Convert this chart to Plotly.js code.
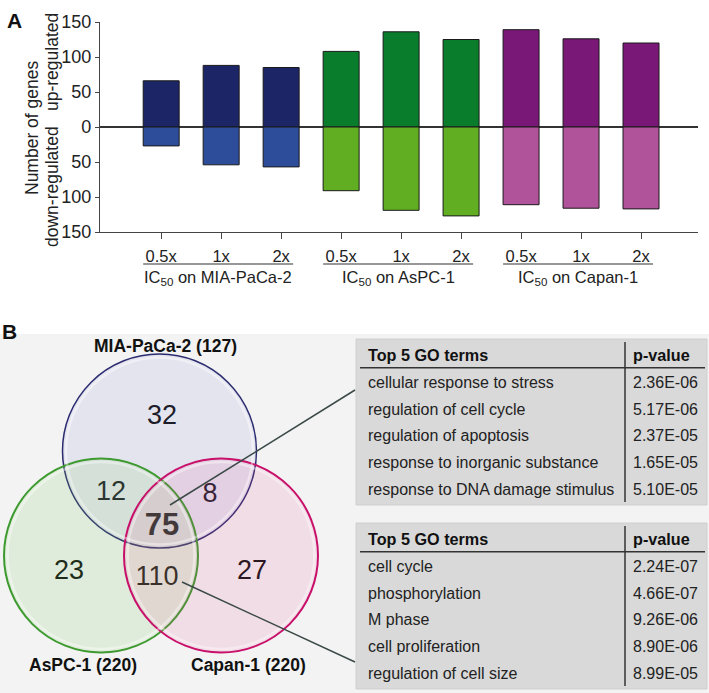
<!DOCTYPE html>
<html><head><meta charset="utf-8">
<script src="https://cdn.plot.ly/plotly-3.0.1.min.js"></script>
<style>html,body{margin:0;padding:0;background:#fff}#chart{width:709px;height:693px}</style>
</head><body><div id="chart"></div>
<script>
// ---------- DATA ----------
const doseLabels = ['0.5x','1x','2x','0.5x','1x','2x','0.5x','1x','2x'];
const groupNames = ['MIA-PaCa-2','AsPC-1','Capan-1'];
const upRegulated = [66, 88, 85, 108, 136, 125, 139, 126, 120];
const downRegulated = [27, 54, 57, 91, 119, 127, 111, 116, 117];
const yTickValues = [-150,-100,-50,0,50,100,150];

const vennSetNames = ['MIA-PaCa-2','AsPC-1','Capan-1'];
const vennSetTotals = [127, 220, 220];
const vennRegionCounts = [32, 23, 27, 12, 8, 110, 75]; // MIA, AsPC, Capan, MIA&AsPC, MIA&Capan, AsPC&Capan, all

const tableHeader = ['Top 5 GO terms','p-value'];
const go1Terms = ['cellular response to stress','regulation of cell cycle','regulation of apoptosis','response to inorganic substance','response to DNA damage stimulus'];
const go1PValues = ['2.36E-06','5.17E-06','2.37E-05','1.65E-05','5.10E-05'];
const go2Terms = ['cell cycle','phosphorylation','M phase','cell proliferation','regulation of cell size'];
const go2PValues = ['2.24E-07','4.66E-07','9.26E-06','8.90E-06','8.99E-05'];

// ---------- STYLE / LAYOUT ----------
const FONT = 'Liberation Sans, Arial, Helvetica, sans-serif';
const upColors = ['#1c2566','#1c2566','#1c2566','#0a7d2c','#0a7d2c','#0a7d2c','#7a1877','#7a1877','#7a1877'];
const downColors = ['#2d4d9a','#2d4d9a','#2d4d9a','#62ae22','#62ae22','#62ae22','#b1539a','#b1539a','#b1539a'];
const W = 709, H = 693;
const circleGeom = [{cx:159.5, cy:451, r:97},{cx:101, cy:555.5, r:97},{cx:221, cy:555.5, r:97}];
const circleFill = ['rgba(120,120,210,0.12)','rgba(120,200,90,0.15)','rgba(235,80,145,0.13)'];
const circleLine = ['#2b2b70','#3d9a2f','#c8106a'];
const setLabelPos = [[165,346],[83,665],[248,665]];
const regionPos = [[162,417],[69,572],[252,572],[111,493],[210,495],[157,578],[162,527]];
const tableTops = [339, 523];

const xIdx = doseLabels.map((_, i) => i);

const traces = [
  {type:'bar', x:xIdx, y:upRegulated, width:0.6, marker:{color:upColors, line:{color:'#1a1a1a', width:1}}, xaxis:'x', yaxis:'y', hoverinfo:'skip'},
  {type:'bar', x:xIdx, y:downRegulated.map(v => -v), width:0.6, marker:{color:downColors, line:{color:'#1a1a1a', width:1}}, xaxis:'x', yaxis:'y', hoverinfo:'skip'},
  {type:'scatter', mode:'text', xaxis:'x2', yaxis:'y2',
   x: regionPos.map(p => p[0]), y: regionPos.map(p => p[1]),
   text: vennRegionCounts.map((v, i) => i === 6 ? '<b>' + v + '</b>' : String(v)),
   textfont:{family:FONT, size: vennRegionCounts.map((v, i) => i === 6 ? 31 : 27), color:'#111'},
   textposition:'middle center', hoverinfo:'skip', cliponaxis:false}
];

const shapes = [];
const annotations = [];

// background of panel B
shapes.push({type:'rect', xref:'x2', yref:'y2', x0:0, x1:709, y0:334, y1:693, fillcolor:'#f3f3f3', line:{width:0}, layer:'below'});

// venn circles
circleGeom.forEach((c, i) => {
  shapes.push({type:'circle', xref:'x2', yref:'y2', x0:c.cx-c.r, x1:c.cx+c.r, y0:c.cy-c.r, y1:c.cy+c.r,
    fillcolor:circleFill[i], line:{color:circleLine[i], width:i === 0 ? 1.5 : 2}});
});
circleGeom.forEach((c, i) => {
  shapes.push({type:'circle', xref:'x2', yref:'y2', x0:c.cx-c.r+3.5, x1:c.cx+c.r-3.5, y0:c.cy-c.r+3.5, y1:c.cy+c.r-3.5,
    fillcolor:'rgba(0,0,0,0)', line:{color:'rgba(255,255,255,0.4)', width:2.5}});
});

// tables
const tables = [[go1Terms, go1PValues], [go2Terms, go2PValues]];
tables.forEach((tb, t) => {
  const top = tableTops[t];
  shapes.push({type:'rect', xref:'x2', yref:'y2', x0:356, x1:707, y0:top, y1:top+166, fillcolor:'#d9d9d9', line:{color:'#cfcfcf', width:1}});
  shapes.push({type:'line', xref:'x2', yref:'y2', x0:360, x1:705, y0:top+28.7, y1:top+28.7, line:{color:'#333', width:1.5}});
  shapes.push({type:'line', xref:'x2', yref:'y2', x0:625, x1:625, y0:top+3, y1:top+163, line:{color:'#333', width:1.5}});
  annotations.push({xref:'x2', yref:'y2', x:366, y:top+16, text:'<b>'+tableHeader[0]+'</b>', showarrow:false, xanchor:'left', yanchor:'middle', font:{family:FONT, size:16.2, color:'#111'}});
  annotations.push({xref:'x2', yref:'y2', x:631, y:top+16, text:'<b>'+tableHeader[1]+'</b>', showarrow:false, xanchor:'left', yanchor:'middle', font:{family:FONT, size:16.2, color:'#111'}});
  tb[0].forEach((term, r) => {
    const y = top + 43.3 + r*26.7;
    annotations.push({xref:'x2', yref:'y2', x:366, y:y, text:term, showarrow:false, xanchor:'left', yanchor:'middle', font:{family:FONT, size:16, color:'#222'}});
    annotations.push({xref:'x2', yref:'y2', x:631, y:y, text:tb[1][r], showarrow:false, xanchor:'left', yanchor:'middle', font:{family:FONT, size:16, color:'#222'}});
  });
});

// connector lines
shapes.push({type:'line', xref:'x2', yref:'y2', x0:170, y0:505, x1:355, y1:390, line:{color:'#3b4a48', width:1.5}});
shapes.push({type:'line', xref:'x2', yref:'y2', x0:182, y0:582, x1:355, y1:662, line:{color:'#3b4a48', width:1.5}});

// venn set labels
vennSetNames.forEach((n, i) => {
  annotations.push({xref:'x2', yref:'y2', x:setLabelPos[i][0], y:setLabelPos[i][1], text:'<b>'+n+' ('+vennSetTotals[i]+')</b>', showarrow:false, xanchor:'center', yanchor:'middle', font:{family:FONT, size:17.5, color:'#111'}});
});

// group underlines and labels (panel A)
groupNames.forEach((g, k) => {
  shapes.push({type:'line', xref:'x', yref:'y2', x0:3*k-0.3, x1:3*k+2.2, y0:264, y1:264, line:{color:'#333', width:1.2}});
  annotations.push({xref:'x', yref:'y2', x:3*k+0.95, y:278, text:'IC<sub>50</sub> on '+g, showarrow:false, xanchor:'center', yanchor:'middle', font:{family:FONT, size:16.5, color:'#222'}});
});

// y-axis titles and panel letters
annotations.push({xref:'x2', yref:'y2', x:32, y:128, text:'Number of genes', textangle:-90, showarrow:false, font:{family:FONT, size:17.5, color:'#222'}});
annotations.push({xref:'x2', yref:'y2', x:52, y:62, text:'up-regulated', textangle:-90, showarrow:false, font:{family:FONT, size:17.5, color:'#222'}});
annotations.push({xref:'x2', yref:'y2', x:52, y:187, text:'down-regulated', textangle:-90, showarrow:false, font:{family:FONT, size:17.5, color:'#222'}});
annotations.push({xref:'x2', yref:'y2', x:14, y:20, text:'<b>A</b>', showarrow:false, font:{family:FONT, size:21, color:'#111'}});
annotations.push({xref:'x2', yref:'y2', x:9, y:331, text:'<b>B</b>', showarrow:false, font:{family:FONT, size:21, color:'#111'}});

const layout = {
  width:W, height:H, margin:{l:0, r:0, t:0, b:0},
  paper_bgcolor:'#fff', plot_bgcolor:'rgba(0,0,0,0)', showlegend:false, barmode:'overlay',
  font:{family:FONT, color:'#222'},
  xaxis:{domain:[100/W, 698/W], range:[-1.02, 8.95], tickvals:xIdx, ticktext:doseLabels,
    showline:true, linecolor:'#444', linewidth:1.2, ticks:'outside', ticklen:6, tickcolor:'#444',
    showgrid:false, zeroline:false, tickfont:{family:FONT, size:16.5, color:'#222'}, ticklabelstandoff:3, fixedrange:true},
  yaxis:{domain:[(H-232)/H, (H-22)/H], range:[-150,150], tickvals:yTickValues, ticktext:yTickValues.map(v => String(Math.abs(v))),
    showline:true, linecolor:'#444', linewidth:1.2, ticks:'outside', ticklen:4, tickcolor:'#444',
    showgrid:false, zeroline:true, zerolinecolor:'#333', zerolinewidth:1.2, tickfont:{family:FONT, size:18, color:'#222'}, fixedrange:true},
  xaxis2:{domain:[0,1], range:[0,W], visible:false, fixedrange:true, anchor:'y2'},
  yaxis2:{domain:[0,1], range:[H,0], visible:false, fixedrange:true, anchor:'x2'},
  shapes:shapes, annotations:annotations
};

Plotly.newPlot('chart', traces, layout, {staticPlot:true, displayModeBar:false});
</script>
</body></html>
